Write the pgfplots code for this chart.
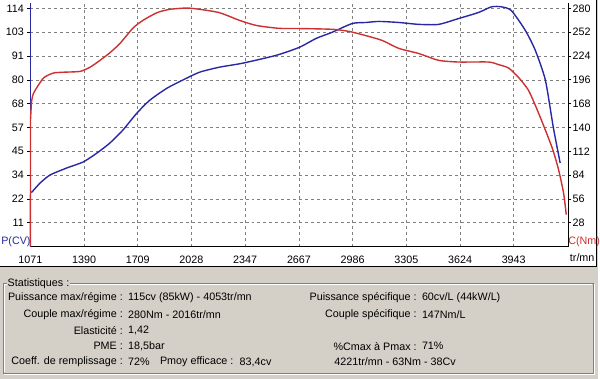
\documentclass[border=0pt]{standalone}
\usepackage{pgfplots}
\pgfplotsset{compat=1.18}
\usepackage{fontspec}
\setmainfont{Liberation Sans}
\definecolor{pgray}{HTML}{D4D0C8}
\definecolor{egray}{HTML}{808080}
\definecolor{cred}{RGB}{204,48,48}
\definecolor{cblue}{RGB}{40,40,165}
\begin{document}
\begin{tikzpicture}[x=1bp,y=1bp,font=\fontsize{10.8bp}{13bp}\selectfont]
\fill[pgray] (0,0) rectangle (600,380);
\fill[white] (0,113) rectangle (598,380);
\draw[black,line width=1bp] (0,113) -- (598,113) -- (598,380);
\begin{axis}[at={(30bp,133bp)}, anchor=south west, scale only axis,
  width=540bp, height=244bp,
  xmin=1071, xmax=4267, ymin=0, ymax=116.4,
  axis y line*=left, axis x line*=bottom,
  axis line style={line width=1bp},
  y axis line style={cblue},
  x axis line style={black},
  xtick={1071,1390,1709,2028,2347,2667,2986,3305,3624,3943},
  xticklabels={1071,1390,1709,2028,2347,2667,2986,3305,3624,3943},
  ytick={11.4,22.8,34.2,45.6,57,68.4,79.8,91.2,102.6,114},
  yticklabels={11,22,34,45,57,68,80,91,103,114},
  /pgf/number format/assume math mode=true,
  tick label style={font=\fontsize{10.8bp}{13bp}\selectfont},
  xticklabel style={yshift=-2.5bp},
  xmajorgrids, ymajorgrids,
  grid style={egray,dash pattern=on 3bp off 3bp,line width=0.6bp},
  tick align=outside, major tick length=3bp,
  x tick style={draw=none},
  y tick style={black,line width=0.8bp},
  clip=false,
]
\addplot[cblue,line width=1.4bp,smooth,tension=0.4] coordinates {
(1077,25.8)(1130,30.5)(1189,34.3)(1290,37.7)(1385,40.5)(1467,44.8)(1544,49.6)
(1621,55.8)(1704,63.9)(1781,70.1)(1882,75.8)(1976,79.7)(2077,83.5)(2195,85.9)
(2332,87.8)(2533,91.6)(2669,95.4)(2770,99.7)(2864,102.6)(2983,106.8)(3065,107.3)
(3142,107.8)(3261,107.3)(3379,106.4)(3497,106.4)(3616,109.2)(3734,112.1)
(3811,114.8)(3870,114.8)(3929,113)(4012,103.5)(4071,94)(4131,79.7)(4178,57.2)
(4219,40)
};
\end{axis}
\begin{axis}[at={(30bp,133bp)}, anchor=south west, scale only axis,
  width=540bp, height=244bp,
  xmin=1071, xmax=4267, ymin=0, ymax=285.86,
  axis y line*=right, axis x line=none,
  axis line style={line width=1bp,black},
  ytick={28,56,84,112,140,168,196,224,252,280},
  yticklabels={28,56,84,112,140,168,196,224,252,280},
  /pgf/number format/assume math mode=true,
  tick label style={font=\fontsize{10.8bp}{13bp}\selectfont},
  yticklabel style={xshift=-2bp},
  tick align=outside, major tick length=3bp,
  y tick style={black,line width=0.8bp},
  clip=false,
]
\addplot[cred,line width=1.4bp] coordinates {(1071,0)(1072,150)(1077,168.7)};
\addplot[cred,line width=1.4bp,smooth,tension=0.4] coordinates {
(1077,168.7)(1089,180)(1148,198)(1207,204)(1266,205)(1367,206)(1426,211)(1485,219)
(1544,228)(1604,239)(1681,257)(1740,266)(1823,275)(1900,279)(2000,280.5)(2077,279)
(2195,275)(2314,266)(2414,260)(2550,256.6)(2669,256.4)(2864,255.5)(2965,253)
(3065,248)(3160,242.5)(3261,233)(3379,227)(3497,219)(3616,217)(3793,217)
(3852,214)(3912,210)(3971,199)(4030,184)(4080,162)(4131,137)(4175,114)
(4210,90)(4240,62)(4255,37.5)
};
\end{axis}
\node[cblue,inner sep=0] at (15.5,138) {P(CV)};
\node[cred,inner sep=0] at (586,138) {C(Nm)};
\node[black,inner sep=0] at (584,122) {tr/mn};
% group box
\draw[egray,line width=0.8bp] (3,6) rectangle (595,96);
\draw[white,line width=0.8bp] (4,5) -- (596,5) -- (596,95);
\draw[white,line width=0.8bp] (4,7) -- (4,95) -- (594,95);
\node[anchor=west,fill=pgray,inner xsep=1bp,inner ysep=1bp] at (6,96) {Statistiques :};
\node[anchor=east,inner sep=0] at (123,82) {Puissance max/régime :};
\node[anchor=east,inner sep=0] at (123,65) {Couple max/régime :};
\node[anchor=east,inner sep=0] at (123,49) {Elasticité :};
\node[anchor=east,inner sep=0] at (123,33) {PME :};
\node[anchor=east,inner sep=0] at (123,17) {Coeff. de remplissage :};
\node[anchor=west,inner sep=0] at (128,82) {115cv (85kW) - 4053tr/mn};
\node[anchor=west,inner sep=0] at (128,65) {280Nm - 2016tr/mn};
\node[anchor=west,inner sep=0] at (128,49) {1,42};
\node[anchor=west,inner sep=0] at (128,33) {18,5bar};
\node[anchor=west,inner sep=0] at (128,17) {72\%};
\node[anchor=west,inner sep=0] at (160,17) {Pmoy efficace :};
\node[anchor=west,inner sep=0] at (240,17) {83,4cv};
\node[anchor=east,inner sep=0] at (418,82) {Puissance spécifique :};
\node[anchor=east,inner sep=0] at (418,65) {Couple spécifique :};
\node[anchor=east,inner sep=0] at (418,33) {\%Cmax à Pmax :};
\node[anchor=west,inner sep=0] at (423,82) {60cv/L (44kW/L)};
\node[anchor=west,inner sep=0] at (423,65) {147Nm/L};
\node[anchor=west,inner sep=0] at (423,33) {71\%};
\node[anchor=west,inner sep=0] at (335,17) {4221tr/mn - 63Nm - 38Cv};
\end{tikzpicture}
\end{document}
